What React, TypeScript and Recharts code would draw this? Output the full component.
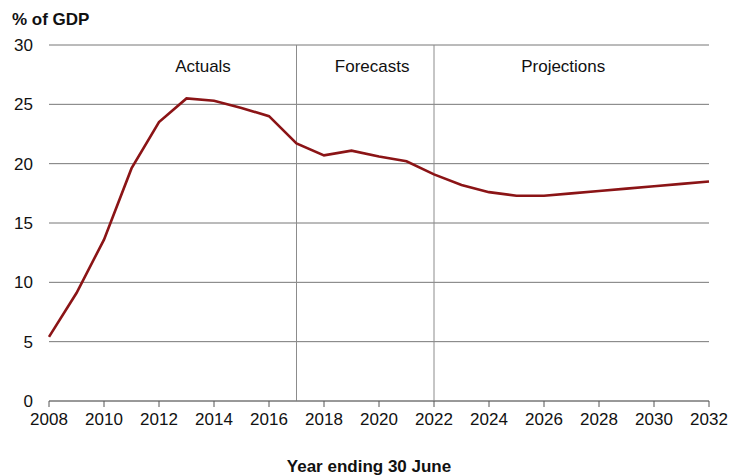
import { LineChart, Line, XAxis, YAxis, CartesianGrid, ReferenceLine } from 'recharts';

const years = [
  2008, 2009, 2010, 2011, 2012, 2013, 2014, 2015, 2016, 2017, 2018, 2019, 2020,
  2021, 2022, 2023, 2024, 2025, 2026, 2027, 2028, 2029, 2030, 2031, 2032,
];
const shareOfGdp = [
  5.4, 9.1, 13.6, 19.6, 23.5, 25.5, 25.3, 24.7, 24.0, 21.7, 20.7, 21.1, 20.6,
  20.2, 19.1, 18.2, 17.6, 17.3, 17.3, 17.5, 17.7, 17.9, 18.1, 18.3, 18.5,
];
const xTicks = [2008, 2010, 2012, 2014, 2016, 2018, 2020, 2022, 2024, 2026, 2028, 2030, 2032];
const yTicks = [0, 5, 10, 15, 20, 25, 30];
const dividers = [2017, 2022];
const periodLabels = [
  { name: 'Actuals', at: 2013.6 },
  { name: 'Forecasts', at: 2019.75 },
  { name: 'Projections', at: 2026.7 },
];

const data = years.map((year, i) => ({ year, value: shareOfGdp[i] }));

const FONT = '"Liberation Sans", Arial, sans-serif';

export default function App() {
  return (
    <div style={{ position: 'absolute', left: 0, top: 0, width: 729, height: 475, overflow: 'hidden', background: '#fff', fontFamily: FONT }}>
      <div style={{ position: 'absolute', left: 12, top: 10, fontSize: 17, fontWeight: 700, color: '#111' }}>
        % of GDP
      </div>
      <LineChart width={729} height={475} data={data} margin={{ top: 45, right: 20, left: 0, bottom: 44 }}>
        <CartesianGrid vertical={false} stroke="#777" strokeWidth={1} />
        <XAxis
          dataKey="year"
          type="number"
          domain={[2008, 2032]}
          ticks={xTicks}
          interval={0}
          height={30}
          axisLine={{ stroke: '#777' }}
          tickLine={{ stroke: '#555' }}
          tickSize={6}
          tickMargin={6}
          tick={{ fill: '#111', fontSize: 17, fontFamily: FONT }}
        />
        <YAxis
          domain={[0, 30]}
          ticks={yTicks}
          interval={0}
          width={49}
          axisLine={false}
          tickLine={false}
          tickSize={0}
          tickMargin={16}
          tick={{ fill: '#111', fontSize: 17, fontFamily: FONT }}
        />
        {dividers.map((x) => (
          <ReferenceLine key={x} x={x} stroke="#8c8c8c" strokeWidth={1} />
        ))}
        {periodLabels.map((p) => (
          <ReferenceLine
            key={p.name}
            x={p.at}
            stroke="none"
            label={{ value: p.name, position: 'insideTop', offset: 15, fill: '#111', fontSize: 17, fontFamily: FONT }}
          />
        ))}
        <Line
          type="linear"
          dataKey="value"
          stroke="#8b1416"
          strokeWidth={2.6}
          dot={false}
          isAnimationActive={false}
        />
      </LineChart>
      <div style={{ position: 'absolute', left: 0, width: 738, top: 457, textAlign: 'center', fontSize: 17, fontWeight: 700, color: '#111' }}>
        Year ending 30 June
      </div>
    </div>
  );
}
